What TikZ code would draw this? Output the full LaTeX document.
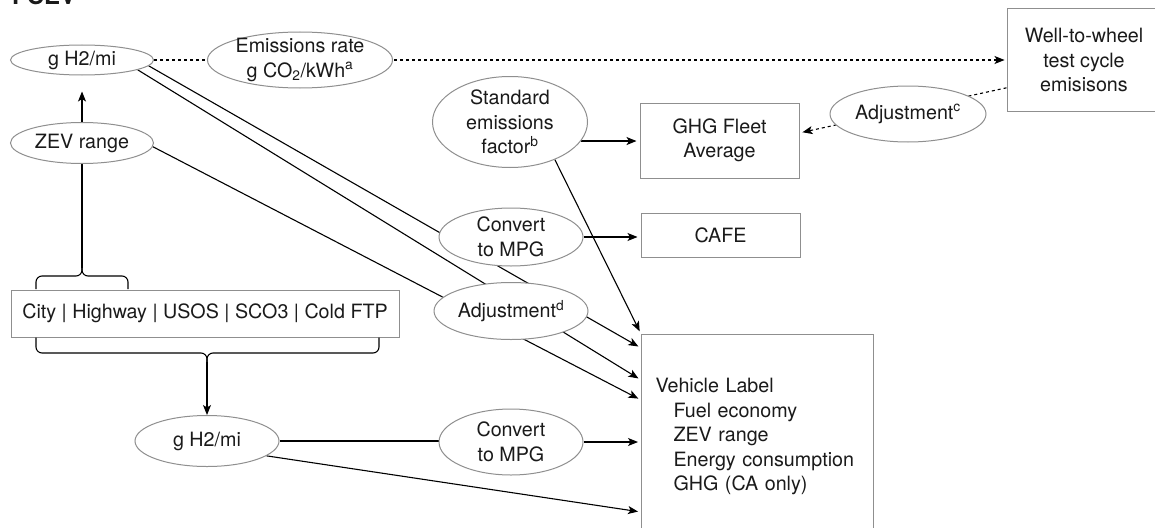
\documentclass[tikz,border=0pt]{standalone}
\usepackage{fontspec}
\setmainfont{TeX Gyre Heros}
\usetikzlibrary{shapes.geometric,arrows.meta,calc}
\definecolor{bord}{HTML}{8F8F8F}
\definecolor{txt}{HTML}{1A1A1A}
\pgfdeclarelayer{bg}
\pgfsetlayers{bg,main}
\tikzset{
  base/.style={font=\fontsize{19.7}{24.5}\selectfont, text=txt, align=center,
    inner sep=0pt, draw=bord, fill=white, line width=1pt},
  oval/.style={base, ellipse, inner xsep=0pt, inner ysep=-4pt},
  rbox/.style={base, rectangle},
  conn/.style={line width=1.1pt, draw=black},
  arr/.style={conn, -{Stealth[length=10pt,width=8pt,inset=2.5pt]}},
  dots/.style={dash pattern=on 3pt off 3pt},
}
\begin{document}
\begin{tikzpicture}[x=1pt,y=-1pt]
\useasboundingbox (0,0) rectangle (1155,527);
\node[anchor=base west, inner sep=0pt, font=\fontsize{24}{28}\selectfont\bfseries, text=txt] (title) at (12,5) {FCEV};

% ellipses
\node[oval, minimum width=143, minimum height=30] (gtop) at (82,60) {g H2/mi};
\node[oval, minimum width=185, minimum height=56] (emis) at (300,60) {Emissions rate\\g CO\textsubscript{2}/kWh\textsuperscript{a}};
\node[oval, minimum width=156, minimum height=56] (adjc) at (908,114) {Adjustment\textsuperscript{c}};
\node[oval, minimum width=155, minimum height=91] (std) at (510,122) {Standard\\emissions\\factor\textsuperscript{b}};
\node[oval, minimum width=143, minimum height=41] (zev) at (82,143) {ZEV range};
\node[oval, minimum width=144, minimum height=58] (conv1) at (511,237) {Convert\\to MPG};
\node[oval, minimum width=154, minimum height=57] (adjd) at (511,311) {Adjustment\textsuperscript{d}};
\node[oval, minimum width=144, minimum height=51] (gbot) at (207,441) {g H2/mi};
\node[oval, minimum width=144, minimum height=66] (conv2) at (511,442) {Convert\\to MPG};

% boxes
\node[rbox, minimum width=154, minimum height=102] (well) at (1084,60) {Well-to-wheel\\test cycle\\emisisons};
\node[rbox, minimum width=159, minimum height=75] (ghg) at (719.5,140.5) {GHG Fleet\\Average};
\node[rbox, minimum width=159, minimum height=44] (cafe) at (720.5,235) {CAFE};
\node[rbox, minimum width=388, minimum height=47] (city) at (205,313.5) {City | Highway | USOS | SCO3 | Cold FTP};
\node[rbox, anchor=north west, minimum width=232, minimum height=204, text width=204, align=left] (veh) at (641,334)
  {Vehicle Label\\\hspace*{18pt}Fuel economy\\\hspace*{18pt}ZEV range\\\hspace*{18pt}Energy consumption\\\hspace*{18pt}GHG (CA only)};

% coordinates
\coordinate (btop) at (82,268);
\coordinate (bbot) at (207,362);
\coordinate (v1) at ($(veh.north west)+(0,14)$);
\coordinate (v2) at ($(veh.north west)+(0,46)$);
\coordinate (v3) at ($(veh.north west)+(0,66)$);
\coordinate (v5) at ($(veh.north west)+(0,178)$);
\coordinate (w1) at ($(well.north west)!0.77!(well.south west)$);
\coordinate (g1) at ($(ghg.north east)!0.4!(ghg.south east)$);

\begin{pgfonlayer}{bg}
  % dotted
  \draw[arr, dots, shorten >=2pt] (gtop.east) -- (gtop.east -| well.west);
  \draw[arr, dots, shorten >=3pt] (w1) -- (g1);
  % long diagonals
  \draw[arr, shorten >=3pt] (gtop.-5) -- (v1);
  \draw[arr, shorten >=3pt] (gtop.-10) -- (v2);
  \draw[arr, shorten >=3pt] (zev.-3) -- (v3);
  \draw[arr, shorten >=3pt] (std.-40) -- (veh.north west);
  \draw[arr, shorten >=3pt] (std.-15) -- (std.-15 -| ghg.west);
  \draw[arr, shorten >=3pt] (conv1.east) -- (conv1.east -| cafe.west);
  \draw[arr, shorten >=3pt] (conv2.east) -- (conv2.east -| veh.west);
  \draw[conn] (gbot.east) -- (gbot.east -| conv2.west);
  \draw[arr, shorten >=3pt] (gbot.-14) -- (v5);
  % vertical
  \draw[arr, shorten >=16pt] (zev.north) -- (gtop.south);
  \draw[conn] (zev.south) -- (btop);
  \draw[arr] (bbot) -- (gbot.north);
\end{pgfonlayer}

% braces
\draw[conn, rounded corners=6pt] (36,289) -- (36,276) -- (82,276) -- (btop);
\draw[conn, rounded corners=6pt] (128,289) -- (128,276) -- (82,276) -- (btop);
\draw[conn, rounded corners=6pt] (36,337.5) -- (36,353) -- (207,353) -- (bbot);
\draw[conn, rounded corners=6pt] (379,337.5) -- (379,353) -- (207,353) -- (bbot);
\end{tikzpicture}
\end{document}
